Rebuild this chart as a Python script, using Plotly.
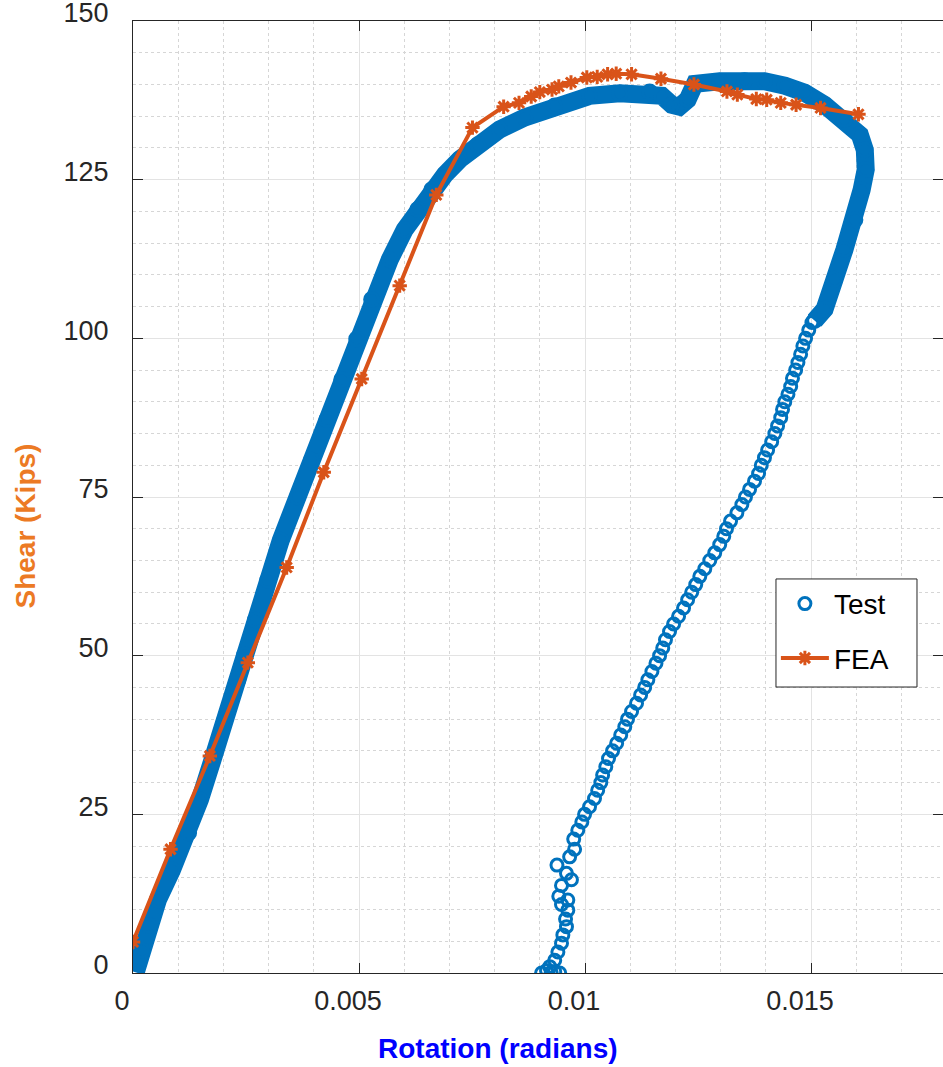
import plotly.graph_objects as go

# ---------------- data ----------------
# Test: dense loading branch + plateau + top of unloading
test_dense_x = [0.00006, 0.00019, 0.00035, 0.00055, 0.00086, 0.00123, 0.00148, 0.00176, 0.00203,
                0.00232, 0.00247, 0.00271, 0.00298, 0.00327, 0.00364, 0.00395, 0.00429, 0.00462,
                0.00495, 0.00528, 0.00568, 0.00601, 0.0063, 0.00661, 0.0069, 0.00723, 0.00763,
                0.00811, 0.00867, 0.00933, 0.0101, 0.01077, 0.01143, 0.0117, 0.01192, 0.01209,
                0.01227, 0.01243, 0.01298, 0.01353, 0.01397, 0.01442, 0.01486, 0.0153, 0.01574,
                0.01608, 0.01619, 0.01621, 0.01612, 0.01597, 0.01574, 0.01552, 0.0153, 0.01508]
test_dense_y = [0.1, 3.6, 7.5, 11.5, 16.2, 22.1, 27.3, 33.6, 39.9,
                46.2, 50.1, 55.6, 61.9, 68.2, 75.0, 80.8, 87.2, 93.5,
                99.9, 106.1, 112.4, 117.1, 120.3, 123.4, 125.8, 128.2, 130.5,
                132.9, 134.8, 136.6, 138.2, 138.6, 138.8, 138.2, 136.8, 136.5,
                137.6, 140.1, 140.5, 140.6, 140.5, 139.8, 138.7, 136.8, 134.5,
                132.1, 129.7, 126.6, 123.4, 118.7, 114.0, 109.3, 104.6, 102.8]

# Test: unloading branch (individual circles)
test_unload_x = [0.01502, 0.01495, 0.01488, 0.01482, 0.01477, 0.01471, 0.01466, 0.01459, 0.01455,
                 0.01449, 0.01442, 0.01437, 0.01433, 0.01426, 0.01420, 0.01413, 0.01404, 0.01397,
                 0.01390, 0.01384, 0.01375, 0.01364, 0.01355, 0.01347, 0.01336, 0.01322, 0.01313,
                 0.01307, 0.01298, 0.01287, 0.01276, 0.01265, 0.01254, 0.01245, 0.01236, 0.01227,
                 0.01218, 0.01207, 0.01196, 0.01187, 0.01178, 0.01172, 0.01165, 0.01157, 0.01148,
                 0.01139, 0.01132, 0.01123, 0.01114, 0.01103, 0.01094, 0.01088, 0.01079, 0.01070,
                 0.01061, 0.01052, 0.01046, 0.01039, 0.01035, 0.01028, 0.01021, 0.01010, 0.00999,
                 0.00993, 0.00984, 0.00975, 0.00977, 0.00966, 0.00938, 0.00959, 0.00970, 0.00948,
                 0.00942, 0.00962, 0.00948, 0.00962, 0.00957, 0.00959, 0.00951, 0.00948, 0.00940,
                 0.00933, 0.00922, 0.00915, 0.00933, 0.00944, 0.00904, 0.00925]
test_unload_y = [102.5, 101.3, 100.0, 98.8, 97.5, 96.2, 95.0, 93.7, 92.4,
                 91.2, 90.0, 88.8, 87.5, 86.2, 85.0, 83.7, 82.4, 81.2,
                 80.0, 78.7, 77.5, 76.2, 75.0, 73.8, 72.5, 71.2, 70.0,
                 68.8, 67.5, 66.2, 65.0, 63.7, 62.5, 61.2, 60.0, 58.8,
                 57.5, 56.2, 55.0, 53.8, 52.5, 51.2, 50.0, 48.8, 47.5,
                 46.2, 45.0, 43.8, 42.5, 41.2, 40.0, 38.8, 37.5, 36.2,
                 35.0, 33.8, 32.5, 31.2, 30.0, 28.8, 27.5, 26.2, 25.0,
                 23.8, 22.5, 21.1, 19.5, 18.3, 17.0, 15.7, 14.7, 13.8,
                 12.1, 11.5, 10.8, 9.9, 8.5, 7.3, 6.0, 4.7, 3.3,
                 2.0, 1.0, 0.4, 0.2, 0.0, 0.0, 0.1]

# FEA
fea_x = [0.0, 0.00083, 0.0017, 0.00254, 0.0034, 0.00422, 0.00506, 0.0059, 0.00671, 0.00751,
         0.0082, 0.00854, 0.00881, 0.009, 0.00927, 0.00942, 0.00969, 0.01004, 0.01027, 0.0105,
         0.01069, 0.01103, 0.01168, 0.01241, 0.01314, 0.01337, 0.01379, 0.01402, 0.01433,
         0.01467, 0.01521, 0.01605]
fea_y = [4.9, 19.5, 34.2, 48.9, 63.9, 78.9, 93.6, 108.3, 122.6, 133.2,
         136.5, 137.1, 138.1, 138.8, 139.2, 139.7, 140.3, 141.1, 141.2, 141.6,
         141.7, 141.6, 140.9, 140.0, 138.9, 138.4, 137.7, 137.6, 137.1,
         136.8, 136.3, 135.3]

x_tick_vals = [0, 0.005, 0.01, 0.015]
x_tick_text = ["0", "0.005", "0.01", "0.015"]
y_tick_vals = [0, 25, 50, 75, 100, 125, 150]
y_tick_text = ["0", "25", "50", "75", "100", "125", "150"]

# ---------------- styling ----------------
BLUE = "#0072BD"
ORANGE = "#D95319"
AXC = "#262626"
FONT = "Liberation Sans, Arial, Helvetica, sans-serif"

fig = go.Figure()

fig.add_trace(go.Scatter(
    x=test_dense_x, y=test_dense_y, mode="lines+markers", name="Test",
    legendgroup="test", showlegend=False,
    line=dict(color=BLUE, width=18),
    marker=dict(symbol="circle-open", size=14, color=BLUE, line=dict(width=3, color=BLUE)),
))
fig.add_trace(go.Scatter(
    x=test_unload_x, y=test_unload_y, mode="markers", name="Test",
    legendgroup="test", showlegend=True,
    marker=dict(symbol="circle-open", size=12, color=BLUE, line=dict(width=3, color=BLUE)),
))
fig.add_trace(go.Scatter(
    x=fea_x, y=fea_y, mode="lines+markers", name="FEA", legendgroup="fea",
    line=dict(color=ORANGE, width=4),
    marker=dict(symbol="asterisk-open", size=12, color=ORANGE, line=dict(width=3, color=ORANGE)),
))

axis_common = dict(
    showline=True, linecolor=AXC, linewidth=1, mirror="ticks",
    ticks="inside", ticklen=10, tickcolor=AXC, tickwidth=1,
    showgrid=True, gridcolor="#E3E3E3", gridwidth=1,
    zeroline=False, ticklabeloverflow="allow",
    tickfont=dict(family=FONT, size=27, color=AXC),
)

fig.update_xaxes(
    range=[0, 0.01792], tickmode="array", tickvals=x_tick_vals, ticktext=x_tick_text,
    minor=dict(dtick=0.001, showgrid=True, gridcolor="#D6D6D6", griddash="dot", gridwidth=1, ticks=""),
    ticklabelstandoff=4, ticklabelshift=-11,
    **axis_common,
)
fig.update_yaxes(
    range=[0, 150], tickmode="array", tickvals=y_tick_vals, ticktext=y_tick_text,
    minor=dict(dtick=5, showgrid=True, gridcolor="#D6D6D6", griddash="dot", gridwidth=1, ticks=""),
    ticklabelstandoff=18, ticklabelshift=-8,
    **axis_common,
)

fig.add_annotation(
    text="<b>Rotation (radians)</b>", xref="paper", yref="paper",
    x=0.45, y=-0.0796, xanchor="center", yanchor="middle", showarrow=False,
    font=dict(family=FONT, size=28, color="#0000FF"),
)
fig.add_annotation(
    text="<b>Shear (Kips)</b>", xref="paper", yref="paper",
    x=-0.1325, y=0.4697, xanchor="center", yanchor="middle", showarrow=False,
    textangle=-90, font=dict(family=FONT, size=28, color="#EC7A24"),
)

# legend box (white, thin dark border)
fig.add_shape(
    type="rect", xref="paper", yref="paper",
    x0=0.7938, x1=0.9679, y0=0.3004, y1=0.4139,
    fillcolor="white", line=dict(color=AXC, width=1), layer="above",
)

fig.update_layout(
    width=943, height=1067,
    margin=dict(l=133, r=0, t=21, b=94, autoexpand=False),
    paper_bgcolor="white", plot_bgcolor="white",
    showlegend=True,
    legend=dict(
        x=0.7937, y=0.414, xanchor="left", yanchor="top",
        bgcolor="rgba(0,0,0,0)", borderwidth=0,
        font=dict(family=FONT, size=28, color="black"),
        tracegroupgap=15, itemwidth=48, traceorder="grouped",
    ),
)

fig.write_html("out.html")
